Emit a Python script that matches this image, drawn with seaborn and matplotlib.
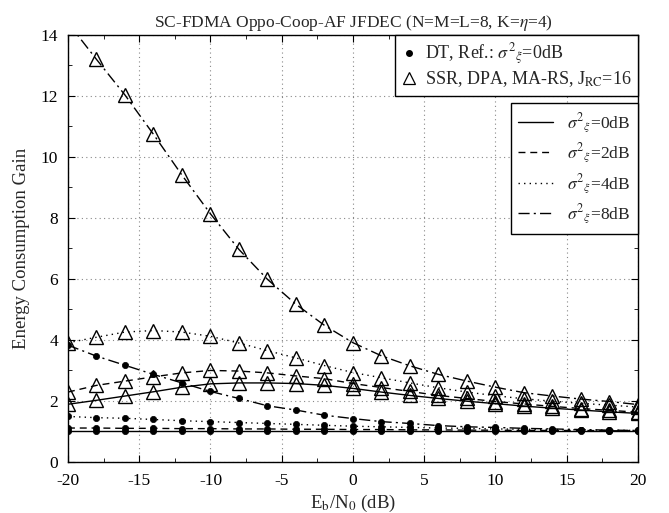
import matplotlib
matplotlib.use('Agg')
import matplotlib.pyplot as plt
from matplotlib.lines import Line2D
from matplotlib.ticker import MultipleLocator
import seaborn as sns

# Eb/N0 grid (dB)
snr = [-20, -18, -16, -14, -12, -10, -8, -6, -4, -2, 0, 2, 4, 6, 8, 10, 12, 14, 16, 18, 20]

# DT reference curves (filled dots)
dt_0db = [1.0, 1.0, 1.0, 1.0, 1.0, 1.0, 1.0, 1.0, 1.0, 1.0, 1.0,
          1.0, 1.0, 1.0, 1.0, 1.0, 1.0, 1.0, 1.0, 1.0, 1.0]
dt_2db = [1.10, 1.10, 1.09, 1.09, 1.08, 1.08, 1.07, 1.07, 1.06, 1.06, 1.05,
          1.05, 1.04, 1.04, 1.03, 1.03, 1.02, 1.02, 1.02, 1.01, 1.01]
dt_4db = [1.48, 1.44, 1.42, 1.38, 1.34, 1.31, 1.28, 1.25, 1.22, 1.19, 1.16,
          1.14, 1.12, 1.10, 1.09, 1.07, 1.06, 1.05, 1.04, 1.03, 1.02]
dt_8db = [3.82, 3.46, 3.16, 2.86, 2.58, 2.30, 2.07, 1.83, 1.69, 1.52, 1.41,
          1.31, 1.25, 1.18, 1.14, 1.12, 1.09, 1.07, 1.05, 1.03, 1.02]

# SSR, DPA, MA-RS curves (open triangles)
ssr_0db = [1.88, 2.01, 2.15, 2.29, 2.44, 2.55, 2.58, 2.58, 2.56, 2.50, 2.40,
           2.28, 2.17, 2.07, 1.98, 1.90, 1.82, 1.75, 1.69, 1.63, 1.58]
ssr_2db = [2.28, 2.50, 2.64, 2.78, 2.91, 2.99, 2.97, 2.91, 2.81, 2.72, 2.56,
           2.43, 2.30, 2.17, 2.07, 1.97, 1.89, 1.81, 1.74, 1.68, 1.62]
ssr_4db = [3.90, 4.08, 4.25, 4.30, 4.25, 4.11, 3.89, 3.64, 3.40, 3.15, 2.92,
           2.75, 2.58, 2.42, 2.28, 2.16, 2.06, 1.98, 1.91, 1.85, 1.79]
ssr_8db = [14.4, 13.2, 12.03, 10.74, 9.40, 8.13, 6.96, 5.98, 5.16, 4.47, 3.90,
           3.47, 3.14, 2.86, 2.64, 2.44, 2.26, 2.15, 2.05, 1.97, 1.87]

var_labels = ['0dB', '2dB', '4dB', '8dB']

sns.set_style('ticks')
plt.rcParams['font.family'] = ['Liberation Serif', 'DejaVu Serif']
plt.rcParams['mathtext.fontset'] = 'stix'
plt.rcParams['axes.unicode_minus'] = False

styles = ['-', (0, (5, 3.5)), (0, (1, 3)), (0, (8, 3, 1.5, 3))]

fig = plt.figure(figsize=(6.69, 5.13), dpi=100)
ax = fig.add_axes([0.1016, 0.1003, 0.852, 0.8315])

for ys, ls in zip([dt_0db, dt_2db, dt_4db, dt_8db], styles):
    sns.lineplot(x=snr, y=ys, ax=ax, color='k', linestyle=ls, linewidth=1.0,
                 marker='o', markersize=4.5, markerfacecolor='k',
                 markeredgecolor='k', markeredgewidth=0.5)

for ys, ls in zip([ssr_0db, ssr_2db, ssr_4db, ssr_8db], styles):
    sns.lineplot(x=snr, y=ys, ax=ax, color='k', linestyle=ls, linewidth=1.0,
                 marker='^', markersize=10, markerfacecolor='none',
                 markeredgecolor='k', markeredgewidth=1.0)

ax.set_xlim(-20, 20)
ax.set_ylim(0, 14)
ax.xaxis.set_major_locator(MultipleLocator(5))
ax.xaxis.set_minor_locator(MultipleLocator(2.5))
ax.yaxis.set_major_locator(MultipleLocator(2))
ax.yaxis.set_minor_locator(MultipleLocator(1))
ax.tick_params(which='both', direction='in', top=True, right=True,
               labelsize=12.5, colors='k')
ax.tick_params(axis='x', which='major', pad=8)
ax.tick_params(axis='y', which='major', pad=7)
ax.tick_params(which='major', length=5)
ax.tick_params(which='minor', length=3)
ax.grid(True, which='major', linestyle=(0, (1, 3)), color='#888888', linewidth=0.8)
for sp in ax.spines.values():
    sp.set_color('k')
    sp.set_linewidth(1.0)

ax.set_xlabel(r'E$_\mathrm{b}$/N$_0$ (dB)', fontsize=13.5, labelpad=3)
ax.set_ylabel('Energy Consumption Gain', fontsize=13.5, labelpad=8)
ax.set_title(r'SC-FDMA Oppo-Coop-AF JFDEC (N=M=L=8, K=$\eta$=4)', fontsize=12.5, pad=6)

h1 = [Line2D([], [], color='k', linestyle='none', marker='o', markersize=4),
      Line2D([], [], color='k', linestyle='none', marker='^', markersize=8,
             markerfacecolor='none', markeredgewidth=0.9)]
leg1 = ax.legend(h1, [r'DT, Ref.: $\sigma^{2}{}_{\xi}$=0dB', r'SSR, DPA, MA-RS, J$_\mathrm{RC}$=16'],
                 loc='upper right', fontsize=13, frameon=True, fancybox=False,
                 edgecolor='k', framealpha=1, borderaxespad=0, handlelength=0.8,
                 handletextpad=0.5, borderpad=0.35, labelspacing=0.15)
leg1.get_frame().set_linewidth(1.0)
ax.add_artist(leg1)

h2 = [Line2D([], [], color='k', linestyle=ls, linewidth=1.0) for ls in styles]
leg2 = ax.legend(h2, [r'$\sigma^{2}{}_{\xi}$=' + v for v in var_labels],
                 loc='upper right', bbox_to_anchor=(1.0, 0.84), fontsize=12.5,
                 frameon=True, fancybox=False, edgecolor='k', framealpha=1,
                 borderaxespad=0, handlelength=2.0, handletextpad=0.8,
                 borderpad=0.45, labelspacing=0.4)
leg2.get_frame().set_linewidth(1.0)

fig.savefig('out.png', dpi=100)
